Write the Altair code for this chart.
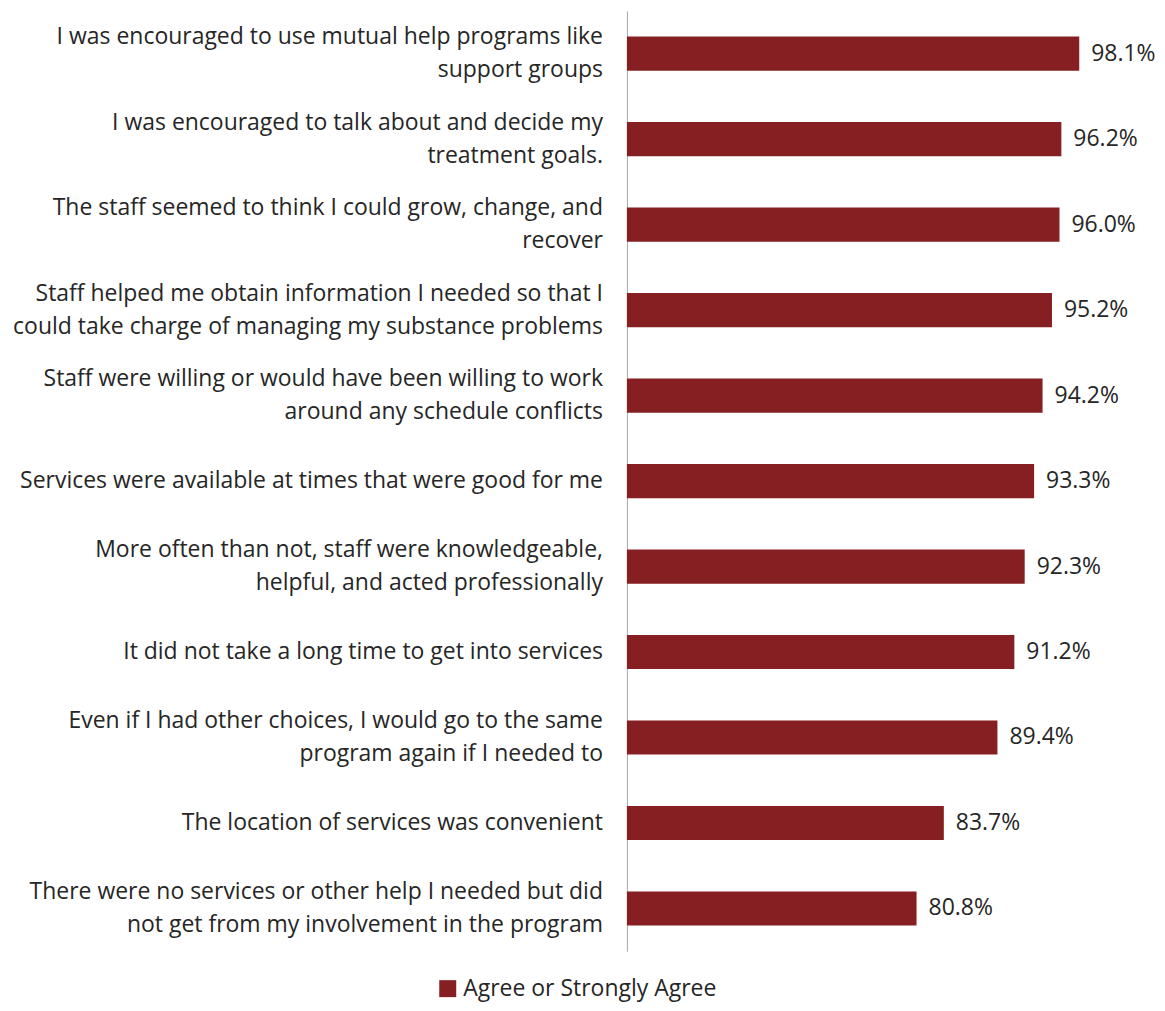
import altair as alt
import pandas as pd

statements = [
    ["I was encouraged to use mutual help programs like", "support groups"],
    ["I was encouraged to talk about and decide my", "treatment goals."],
    ["The staff seemed to think I could grow, change, and", "recover"],
    ["Staff helped me obtain information I needed so that I", "could take charge of managing my substance problems"],
    ["Staff were willing or would have been willing to work", "around any schedule conflicts"],
    ["Services were available at times that were good for me"],
    ["More often than not, staff were knowledgeable,", "helpful, and acted professionally"],
    ["It did not take a long time to get into services"],
    ["Even if I had other choices, I would go to the same", "program again if I needed to"],
    ["The location of services was convenient"],
    ["There were no services or other help I needed but did", "not get from my involvement in the program"],
]
values = [98.1, 96.2, 96.0, 95.2, 94.2, 93.3, 92.3, 91.2, 89.4, 83.7, 80.8]
series_name = "Agree or Strongly Agree"

df = pd.DataFrame({
    "label": [" ".join(s) for s in statements],
    "line1": [s[0] for s in statements],
    "line2": [s[1] if len(s) > 1 else "" for s in statements],
    "nlines": [len(s) for s in statements],
    "value": values,
    "series": series_name,
    "order": list(range(len(values))),
})
df["text"] = df["value"].map(lambda v: f"{v:.1f}%")

FONT = "Open Sans"
FS = 23
FSV = 23
COLOR = "#861F22"
TXT = "#262626"
HALF = 16.5

sort_spec = alt.EncodingSortField(field="order", order="ascending")
y_enc = alt.Y(
    "label:N",
    sort=sort_spec,
    scale=alt.Scale(paddingInner=0.6, paddingOuter=0.3),
    axis=alt.Axis(
        title=None,
        ticks=False,
        labels=False,
        domainColor="#A6A6A6",
        domainWidth=1,
    ),
)
y_plain = alt.Y("label:N", sort=sort_spec)
x_scale = alt.Scale(domain=[50, 100])

base = alt.Chart(df)

bars = base.mark_bar().encode(
    y=y_enc,
    x=alt.X("value:Q", scale=x_scale, axis=None),
    x2=alt.datum(50),
    color=alt.Color(
        "series:N",
        scale=alt.Scale(range=[COLOR]),
        legend=alt.Legend(
            title=None,
            orient="none",
            legendX=-191,
            legendY=968,
            symbolType="square",
            symbolSize=289,
            symbolStrokeWidth=0,
            labelFont=FONT,
            labelFontSize=FSV,
            labelColor=TXT,
            labelOffset=4,
            labelLimit=400,
        ),
    ),
)

values_text = base.mark_text(
    align="left", baseline="middle", dx=12, font=FONT, fontSize=FSV, color=TXT
).encode(
    y=y_plain,
    x=alt.X("value:Q", scale=x_scale),
    text="text:N",
)

def cat_text(field, dy, cond):
    return base.transform_filter(cond).mark_text(
        align="right", baseline="middle", dy=dy, font=FONT, fontSize=FS, color=TXT
    ).encode(
        y=y_plain,
        x=alt.value(-24),
        text=f"{field}:N",
    )

single = cat_text("line1", 0, "datum.nlines == 1")
first = cat_text("line1", -HALF, "datum.nlines == 2")
second = cat_text("line2", HALF, "datum.nlines == 2")

chart = (
    alt.layer(bars, values_text, single, first, second)
    .properties(
        width=471,
        height=942,
        autosize=alt.AutoSizeParams(type="none"),
        padding={"left": 620, "top": 2, "right": 60, "bottom": 55},
    )
    .configure_view(stroke=None)
)

chart.save("out.html", embed_options={"renderer": "svg", "actions": False})
